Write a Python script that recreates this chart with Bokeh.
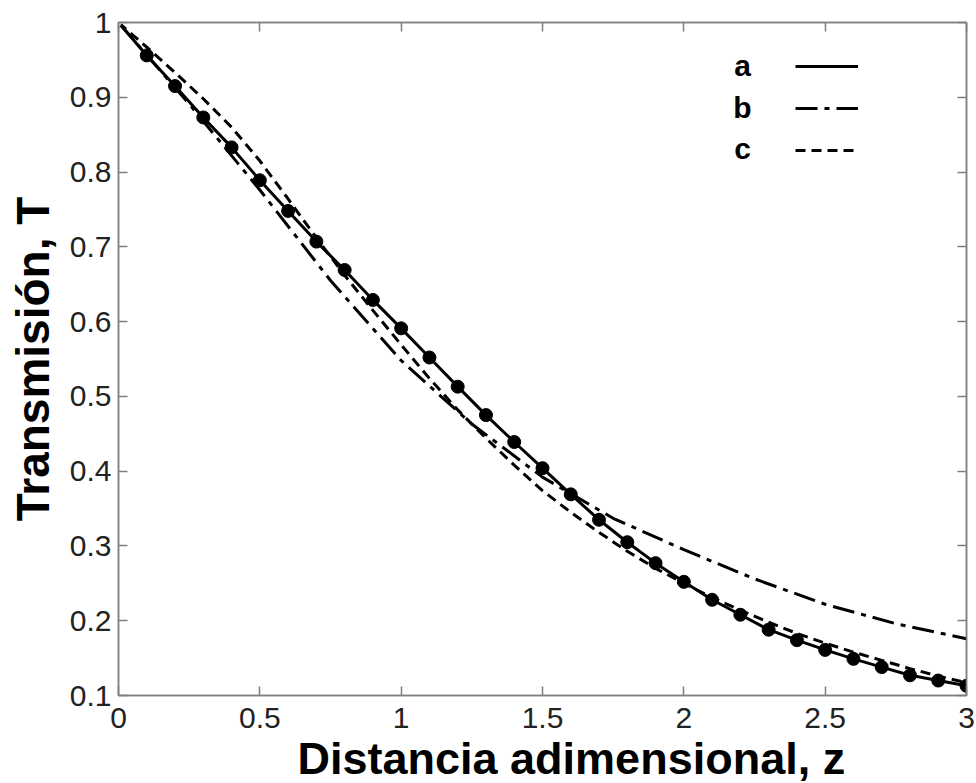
from bokeh.plotting import figure
from bokeh.models import FixedTicker, LinearAxis, Label, Legend, LegendItem, Range1d, Title
from bokeh.embed import file_html
from bokeh.resources import INLINE

# ---------------- data ----------------
z_a = [0.0, 0.1, 0.2, 0.3, 0.4, 0.5, 0.6, 0.7, 0.8, 0.9, 1.0, 1.1, 1.2, 1.3, 1.4, 1.5,
       1.6, 1.7, 1.8, 1.9, 2.0, 2.1, 2.2, 2.3, 2.4, 2.5, 2.6, 2.7, 2.8, 2.9, 3.0]
T_a = [1.000, 0.956, 0.915, 0.873, 0.833, 0.789, 0.748, 0.707, 0.669, 0.629, 0.591,
       0.552, 0.513, 0.475, 0.439, 0.404, 0.369, 0.335, 0.305, 0.277, 0.252, 0.228,
       0.208, 0.188, 0.174, 0.161, 0.149, 0.138, 0.127, 0.120, 0.113]

z_b = [0.0, 0.25, 0.5, 0.75, 1.0, 1.25, 1.5, 1.75, 2.0, 2.25, 2.5, 2.75, 3.0]
T_b = [1.000, 0.891, 0.776, 0.655, 0.548, 0.463, 0.392, 0.337, 0.295, 0.256, 0.222,
       0.196, 0.176]

z_c = [0.0, 0.1, 0.2, 0.3, 0.4, 0.5, 0.6, 0.7, 0.8, 0.9, 1.0, 1.1, 1.2, 1.3, 1.4, 1.5,
       1.6, 1.7, 1.8, 1.9, 2.0, 2.1, 2.2, 2.3, 2.4, 2.5, 2.6, 2.7, 2.8, 2.9, 3.0]
T_c = [1.000, 0.967, 0.933, 0.898, 0.860, 0.815, 0.764, 0.712, 0.662, 0.615, 0.569,
       0.524, 0.482, 0.444, 0.408, 0.374, 0.345, 0.318, 0.293, 0.270, 0.250, 0.231,
       0.214, 0.198, 0.183, 0.170, 0.158, 0.147, 0.136, 0.126, 0.117]

x_ticks = [0, 0.5, 1, 1.5, 2, 2.5, 3]
x_tick_labels = ["0", "0.5", "1", "1.5", "2", "2.5", "3"]
y_ticks = [0.1, 0.2, 0.3, 0.4, 0.5, 0.6, 0.7, 0.8, 0.9, 1.0]
y_tick_labels = ["0.1", "0.2", "0.3", "0.4", "0.5", "0.6", "0.7", "0.8", "0.9", "1"]

legend_labels = ["a", "b", "c"]
x_title = "Distancia adimensional, z"
y_title = "Transmisión, T"

# ---------------- style ----------------
FONT = "Liberation Sans"
AX = "#7f7f7f"
TXT = "#222222"

p = figure(width=976, height=783, output_backend="svg", toolbar_location=None,
           x_range=Range1d(0, 3), y_range=Range1d(0.1, 1.0),
           min_border_left=118, min_border_right=10, min_border_top=22,
           min_border_bottom=87)
p.xgrid.visible = False
p.ygrid.visible = False
p.outline_line_color = AX
p.outline_line_width = 1.5
p.background_fill_color = "white"
p.border_fill_color = "white"


def style_axis(ax, ticks, labels, show):
    ax.ticker = FixedTicker(ticks=ticks)
    ax.major_label_overrides = {t: (l if show else "") for t, l in zip(ticks, labels)}
    ax.major_tick_in = 9
    ax.major_tick_out = 0
    ax.minor_tick_line_color = None
    ax.axis_line_color = AX
    ax.axis_line_width = 1.5
    ax.major_tick_line_color = AX
    ax.major_tick_line_width = 1.5
    ax.major_label_text_font = FONT
    ax.major_label_text_color = TXT
    ax.major_label_text_font_size = "30px" if show else "1px"
    ax.major_label_standoff = 8 if show else 0


style_axis(p.xaxis[0], x_ticks, x_tick_labels, True)
p.xaxis[0].major_label_standoff = 12
style_axis(p.yaxis[0], y_ticks, y_tick_labels, True)
p.yaxis[0].major_label_standoff = 7
p.yaxis[0].axis_label = y_title
p.yaxis[0].axis_label_text_font = FONT
p.yaxis[0].axis_label_text_font_style = "bold"
p.yaxis[0].axis_label_text_font_size = "46px"
p.yaxis[0].axis_label_text_color = "black"
p.yaxis[0].axis_label_standoff = 8

top = LinearAxis()
style_axis(top, x_ticks, x_tick_labels, False)
p.add_layout(top, "above")
right = LinearAxis()
style_axis(right, y_ticks, y_tick_labels, False)
p.add_layout(right, "right")

p.add_layout(Title(text=x_title, align="left", offset=179, text_font=FONT,
                   text_font_style="bold", text_font_size="45px",
                   text_color="black", standoff=0), "below")

# ---------------- series ----------------
ra = p.line(z_a, T_a, line_color="black", line_width=3)
p.scatter(z_a[1:], T_a[1:], size=13, fill_color="black", line_color="black")
rb = p.line(z_b, T_b, line_color="black", line_width=3, line_dash="22 7 5 7")
rc = p.line(z_c, T_c, line_color="black", line_width=3, line_dash="10 6")
p.scatter([z_a[0]], [T_a[0]], marker="diamond", size=11, fill_color="white",
          line_color="#999999", line_width=1)

# ---------------- legend (label left of sample) ----------------
legend = Legend(items=[LegendItem(label="", renderers=[r]) for r in (ra, rb, rc)],
                location=(677, 535), glyph_width=63, glyph_height=20, spacing=22,
                padding=0, margin=0, label_width=0, label_standoff=0,
                label_text_font_size="1px", border_line_color=None,
                background_fill_alpha=0)
p.add_layout(legend)

for txt, yb in zip(legend_labels, [630, 588, 547]):
    p.add_layout(Label(x=624, y=yb, x_units="screen", y_units="screen", text=txt,
                       text_font=FONT, text_font_style="bold", text_font_size="30px",
                       text_color="black", text_align="center",
                       text_baseline="alphabetic"))

open("out.html", "w").write(file_html(p, INLINE))
